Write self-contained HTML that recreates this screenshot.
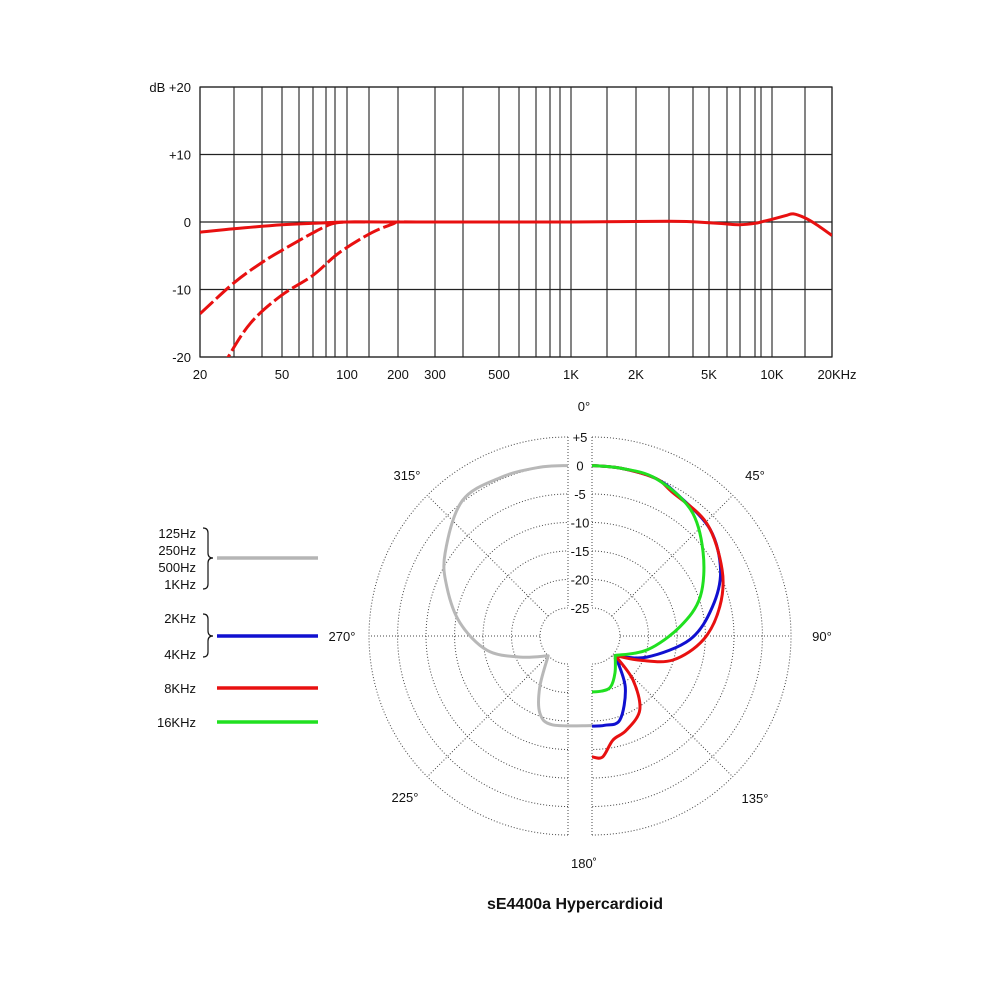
<!DOCTYPE html>
<html><head><meta charset="utf-8">
<style>
html,body{margin:0;padding:0;background:#fff;}
svg{display:block;font-family:"Liberation Sans",sans-serif;}
</style></head>
<body>
<svg id="chart" width="1000" height="1000" viewBox="0 0 1000 1000" xmlns="http://www.w3.org/2000/svg">
  <defs>
    <clipPath id="fclip"><rect x="200" y="87" width="632" height="270"/></clipPath>
  </defs>
  <g id="freq"></g>
  <g id="polar"></g>
  <g id="legend">
    <g font-size="13" fill="#111" text-anchor="end">
      <text x="196" y="538">125Hz</text>
      <text x="196" y="555">250Hz</text>
      <text x="196" y="572">500Hz</text>
      <text x="196" y="589">1KHz</text>
      <text x="196" y="623">2KHz</text>
      <text x="196" y="659">4KHz</text>
      <text x="196" y="693">8KHz</text>
      <text x="196" y="727">16KHz</text>
    </g>
    <path d="M203,528 Q208,528 208,533 L208,553 Q208,558 213,558 Q208,558 208,563 L208,584 Q208,589 203,589" fill="none" stroke="#111" stroke-width="1.2"/>
    <path d="M203,614 Q208,614 208,619 L208,631 Q208,636 213,636 Q208,636 208,641 L208,652 Q208,657 203,657" fill="none" stroke="#111" stroke-width="1.2"/>
    <line x1="217" y1="558" x2="318" y2="558" stroke="#b5b5b5" stroke-width="3.5"/>
    <line x1="217" y1="636" x2="318" y2="636" stroke="#1010d0" stroke-width="3.5"/>
    <line x1="217" y1="688" x2="318" y2="688" stroke="#e81010" stroke-width="3.5"/>
    <line x1="217" y1="722" x2="318" y2="722" stroke="#20e020" stroke-width="3.5"/>
  </g>
  <text x="575" y="909" font-size="16" font-weight="bold" text-anchor="middle" fill="#111">sE4400a  Hypercardioid</text>
</svg>
<script>
// ---------- Frequency response data ----------
const yTicks = [20, 10, 0, -10, -20];
const yTickLabels = ["dB  +20", "+10", "0", "-10", "-20"];
const xLabelFreqs = [20, 50, 100, 200, 300, 500, 1000, 2000, 5000, 10000, 20000];
const xLabelTexts = ["20", "50", "100", "200", "300", "500", "1K", "2K", "5K", "10K", "20KHz"];
const solidFreqs = [20, 30, 50, 70, 100, 200, 1000, 3000, 5000, 6000, 7000, 8000, 9000, 10000, 12000, 13000, 15000, 17000, 20000];
const solidDb = [-1.5, -1.0, -0.4, -0.2, 0, 0, 0, 0.1, -0.1, -0.3, -0.4, -0.2, 0, 0.4, 1.0, 1.2, 0.6, -0.4, -2.0];
const cut1Freqs = [20, 30, 40, 50, 70, 86, 100, 130];
const cut1Db = [-13.6, -9, -6, -4.2, -1.6, -0.3, 0, 0];
const cut2Freqs = [26, 28, 35.5, 49, 70, 93, 135, 185, 200, 260];
const cut2Db = [-22, -20, -15, -11, -7.9, -4.6, -1.6, -0.3, 0, 0];

const axisF = [20,30,40,50,60,70,80,90,100,130,200,300,400,500,600,700,800,900,1000,1500,2000,3000,4000,5000,6000,7000,8000,9000,10000,15000,20000];
const axisX = [200,234,262,282,299,313,326,335,347,369,398,435,463,499,519,536,550,560,571,607,636,669,693,709,727,740,755,761,772,805,832];
function fx(f){
  const l=Math.log10(f);
  if(f<=axisF[0]){const a=Math.log10(axisF[0]),b=Math.log10(axisF[1]);return axisX[0]+(l-a)/(b-a)*(axisX[1]-axisX[0]);}
  for(let i=0;i<axisF.length-1;i++){
    if(f<=axisF[i+1]){const a=Math.log10(axisF[i]),b=Math.log10(axisF[i+1]);return axisX[i]+(l-a)/(b-a)*(axisX[i+1]-axisX[i]);}
  }
  return axisX[axisX.length-1];
}
function fy(db){return 222-6.75*db;}

// ---------- Polar data ----------
const ringDb = [5, 0, -5, -10, -15, -20, -25];
const ringLabels = ["+5", "0", "-5", "-10", "-15", "-20", "-25"];
const angleLabelAngles = [0, 45, 90, 135, 180, 225, 270, 315];
const angleLabels = ["0°", "45°", "90°", "135°", "180˚", "225°", "270°", "315°"];
const grayAngles = [360, 350, 337, 322, 304, 292, 277, 260, 246, 225, 209, 200, 190, 180];
const grayDb = [0, 0.1, 0.3, 0.2, -3.9, -7, -10.8, -15.5, -20.8, -25, -19.7, -15.5, -14.1, -14.2];
const greenAngles = [0, 10, 22, 38, 53, 70, 84, 104, 130, 148, 160, 170, 180];
const greenDb = [0, -0.05, -0.1, -1.8, -5.5, -9.7, -14.4, -19.9, -24.6, -22.3, -20.4, -20.1, -20.1];
const blueAngles = [0, 10, 22, 32, 48, 63, 76.5, 92, 111, 130, 147, 161.6, 172, 180];
const blueDb = [0, -0.05, -0.1, -1.0, -2.0, -4.6, -8.2, -12.7, -19.6, -24.6, -19.2, -14.4, -14.1, -14.1];
const redAngles = [0, 10, 22, 29, 45.5, 63, 77, 92, 106.5, 116.6, 130, 137, 147, 160, 168.6, 175, 180];
const redDb = [0, -0.05, -0.1, -1.0, -1.7, -4.3, -6.9, -10.4, -15.1, -20.4, -24.6, -19.4, -14.5, -12.3, -11.3, -8.6, -8.7];

const PCX=580, PCY=636, GAP=12;
function pr(db){return 199-(5-db)*5.7;}
function pp(angle, db){
  const cx = (angle>180) ? PCX-GAP : PCX+GAP;
  const r = pr(db), t = angle*Math.PI/180;
  return [cx + r*Math.sin(t), PCY - r*Math.cos(t)];
}

const NS="http://www.w3.org/2000/svg";
function mk(tag, attrs, parent){
  const e=document.createElementNS(NS,tag);
  for(const k in attrs) e.setAttribute(k, attrs[k]);
  parent.appendChild(e); return e;
}
function smoothSeg(pts, first){
  let d=(first?"M":"L")+pts[0][0].toFixed(1)+","+pts[0][1].toFixed(1);
  for(let i=0;i<pts.length-1;i++){
    const p0=pts[i-1]||pts[i], p1=pts[i], p2=pts[i+1], p3=pts[i+2]||p2;
    const c1=[p1[0]+(p2[0]-p0[0])/6, p1[1]+(p2[1]-p0[1])/6];
    const c2=[p2[0]-(p3[0]-p1[0])/6, p2[1]-(p3[1]-p1[1])/6];
    d+=" C"+c1[0].toFixed(1)+","+c1[1].toFixed(1)+" "+c2[0].toFixed(1)+","+c2[1].toFixed(1)+" "+p2[0].toFixed(1)+","+p2[1].toFixed(1);
  }
  return d;
}
function smooth(pts){return smoothSeg(pts,true);}

// ---------- Draw frequency chart ----------
const freq=document.getElementById('freq');
axisF.forEach(f=>{
  const x=fx(f);
  const l=mk('line',{x1:x,y1:87,x2:x,y2:357,stroke:'#333','stroke-width':1.2},freq);
  
  
});
yTicks.forEach((v,i)=>{
  const y=fy(v);
  const l=mk('line',{x1:200,y1:y,x2:832,y2:y,stroke:'#222','stroke-width':1.2},freq);
  
  
  const t=mk('text',{x:191,y:y+5,'font-size':13,'text-anchor':'end',fill:'#111'},freq);
  t.textContent=yTickLabels[i];
  
  
});
xLabelFreqs.forEach((f,i)=>{
  const t=mk('text',{x:fx(f)+(i===xLabelFreqs.length-1?5:0),y:379,'font-size':13,'text-anchor':'middle',fill:'#111'},freq);
  t.textContent=xLabelTexts[i];
  
  
});
const fr=mk('rect',{x:200,y:87,width:632,height:270,fill:'none',stroke:'#222','stroke-width':1.2},freq);


const fg=mk('g',{'clip-path':'url(#fclip)',fill:'none',stroke:'#e81010','stroke-width':3,'stroke-linecap':'butt'},freq);
const c1=mk('path',{d:smooth(cut1Freqs.map((f,i)=>[fx(f),fy(cut1Db[i])])),'stroke-dasharray':'18,4'},fg);


const c2=mk('path',{d:smooth(cut2Freqs.map((f,i)=>[fx(f),fy(cut2Db[i])])),'stroke-dasharray':'18,4'},fg);


const s=mk('path',{d:smooth(solidFreqs.map((f,i)=>[fx(f),fy(solidDb[i])]))},fg);



// ---------- Draw polar chart ----------
const polar=document.getElementById('polar');
const grid=mk('g',{fill:'none',stroke:'#444','stroke-width':1,'stroke-dasharray':'1,2'},polar);


ringDb.forEach((db,i)=>{
  const r=pr(db);
  const L=PCX-GAP, R=PCX+GAP;
  const a=mk('path',{d:`M${R},${PCY-r} A${r},${r} 0 0 1 ${R},${PCY+r}`},grid);
  
  
  const b=mk('path',{d:`M${L},${PCY+r} A${r},${r} 0 0 1 ${L},${PCY-r}`},grid);
  
  
});
const rOut=pr(5), rIn=pr(-25);
[[PCX-GAP,-1],[PCX+GAP,1]].forEach(([cx,sg])=>{
  mk('line',{x1:cx,y1:PCY-rOut,x2:cx,y2:PCY-rIn},grid);
  mk('line',{x1:cx,y1:PCY+rIn+2,x2:cx,y2:PCY+rOut},grid);
  mk('line',{x1:cx+sg*rIn,y1:PCY,x2:cx+sg*rOut,y2:PCY},grid);
  [45,135].forEach(a=>{
    const t=a*Math.PI/180;
    mk('line',{x1:cx+sg*rIn*Math.sin(t),y1:PCY-rIn*Math.cos(t),x2:cx+sg*rOut*Math.sin(t),y2:PCY-rOut*Math.cos(t)},grid);
  });
});
ringDb.forEach((db,i)=>{
  const t=mk('text',{x:PCX,y:PCY-pr(db)+5,'font-size':13,'text-anchor':'middle',fill:'#111'},polar);
  t.textContent=ringLabels[i];
  
  
});
const angPos=[[584,411],[755,480],[822,641],[755,803],[584,868],[405,802],[342,641],[407,480]];
angleLabelAngles.forEach((a,i)=>{
  const t=mk('text',{x:angPos[i][0],y:angPos[i][1],'font-size':13,'text-anchor':'middle',fill:'#111'},polar);
  t.textContent=angleLabels[i];
  
  
});
function polarSeries(angles, dbs, color, name){
  const pts=angles.map((a,i)=>pp(a,dbs[i]));
  let k=0; dbs.forEach((v,i)=>{ if(v<dbs[k]) k=i; });
  const d=smoothSeg(pts.slice(0,k+1),true)+" "+smoothSeg(pts.slice(k),false);
  const p=mk('path',{d:d,fill:'none',stroke:color,'stroke-width':3,'stroke-linejoin':'round'},polar);
  
  
}
polarSeries(grayAngles, grayDb, '#b8b8b8', 'polar-series-low');
polarSeries(blueAngles, blueDb, '#1010d0', 'polar-series-2-4khz');
polarSeries(redAngles, redDb, '#e81010', 'polar-series-8khz');
polarSeries(greenAngles, greenDb, '#20e020', 'polar-series-16khz');
</script>
</body></html>
